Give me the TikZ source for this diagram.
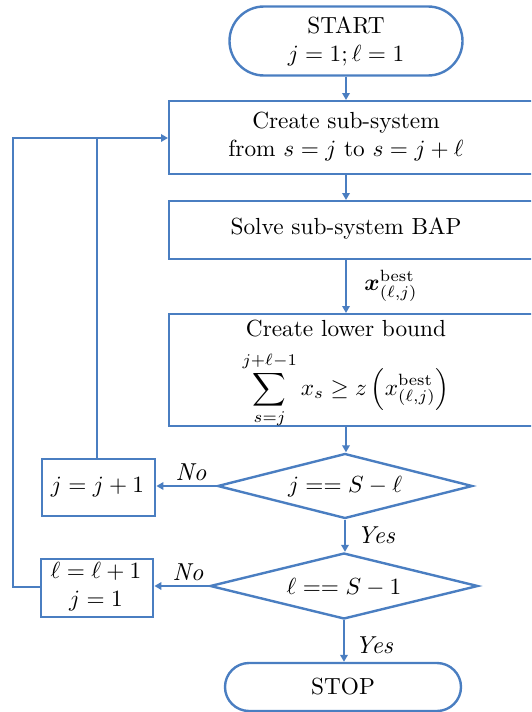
\documentclass[tikz,border=0pt]{standalone}
\usepackage{amsmath,bm}
\usetikzlibrary{shapes.geometric,shapes.misc,arrows.meta}
\definecolor{flowblue}{RGB}{74,126,193}
\tikzset{
  shapeline/.style={draw=flowblue,line width=2.4pt},
  term/.style={shapeline,rounded rectangle,inner sep=0pt},
  procbox/.style={shapeline,rectangle,inner sep=0pt,anchor=north west},
  decision/.style={shapeline,diamond,inner sep=0pt,aspect=3.9},
  txt/.style={scale=2.33,align=center,inner sep=0pt},
  lbl/.style={scale=2.45,font=\itshape,inner sep=0pt},
  conn/.style={draw=flowblue,line width=2pt},
  arr/.style={conn,-{Triangle[length=7pt,width=7.5pt]}}
}
\begin{document}
\begin{tikzpicture}[x=1pt,y=-1pt]
\useasboundingbox (0,0) rectangle (531,712);
\clip (0,0) rectangle (531,712);
% terminals
\node[term,minimum width=233pt,minimum height=69pt] (start) at (346,41) {};
\node[txt] (starttxt) at (346,41) {START\\$j=1;\ell=1$};
\node[term,minimum width=236pt,minimum height=48pt] (stop) at (343,687) {};
\node[txt] (stoptxt) at (343,687) {STOP};
% process boxes (extend beyond right edge)
\node[procbox,minimum width=400pt,minimum height=73pt] (b1) at (168,100) {};
\node[txt] (b1txt) at (346,137) {Create sub-system\\from $s=j$ to $s=j+\ell$};
\node[procbox,minimum width=400pt,minimum height=58pt] (b2) at (168,200) {};
\node[txt] (b2txt) at (346,229) {Solve sub-system BAP};
\node[procbox,minimum width=400pt,minimum height=112pt] (b3) at (168,313) {};
\node[txt] (b3a) at (346,329) {Create lower bound};
\node[txt] (b3b) at (346,390) {$\displaystyle\sum_{s=j}^{j+\ell-1} x_s \ge z\left(x^{\text{best}}_{(\ell,j)}\right)$};
% decisions
\node[decision,minimum width=255pt,minimum height=65pt] (d1) at (345,486) {};
\node[txt] (d1txt) at (345,487) {$j \mathrel{==} S-\ell$};
\node[decision,minimum width=268pt,minimum height=66pt] (d2) at (344,586) {};
\node[txt] (d2txt) at (344,587) {$\ell \mathrel{==} S-1$};
% side boxes
\node[procbox,minimum width=113pt,minimum height=57pt] (bj) at (41,458) {};
\node[txt] (bjtxt) at (97.5,487) {$j=j+1$};
\node[procbox,minimum width=112pt,minimum height=58pt] (bl) at (40,558) {};
\node[txt] (bltxt) at (96,587) {$\ell=\ell+1$\\$j=1$};
% coordinates for loop
\coordinate (j1) at (97,138);
\coordinate (o1) at (13,138);
\coordinate (o2) at (13,587);
\coordinate (b1in) at (168,138);
% connectors
\draw[arr] (start.south) -- (start.south |- b1.north);
\draw[arr] (346,173) coordinate (b1s) -- (b1s |- b2.north);
\draw[arr] (346,258) coordinate (b2s) -- (b2s |- b3.north);
\draw[arr] (346,425) coordinate (b3s) -- (b3s |- d1.north);
\draw[arr] (d1.south) -- (d1.south |- d2.north);
\draw[arr] (d2.south) -- (d2.south |- stop.north);
\draw[arr] (d1.west) -- (d1.west -| bj.east);
\draw[arr] (d2.west) -- (d2.west -| bl.east);
\draw[conn,line width=2.4pt] (bj.north -| j1) -- (j1);
\draw[arr,line width=2.4pt] (bl.west |- o2) -- (o2) -- (o1) -- (b1in);
% labels
\node[lbl] (no1) at (191,472) {No};
\node[lbl] (no2) at (188,572) {No};
\node[lbl] (yes1) at (376,535) {Yes};
\node[lbl] (yes2) at (374,645) {Yes};
\node[txt,anchor=west] (xbest) at (364,286) {$\bm{x}^{\text{best}}_{(\ell,j)}$};
\end{tikzpicture}
\end{document}
